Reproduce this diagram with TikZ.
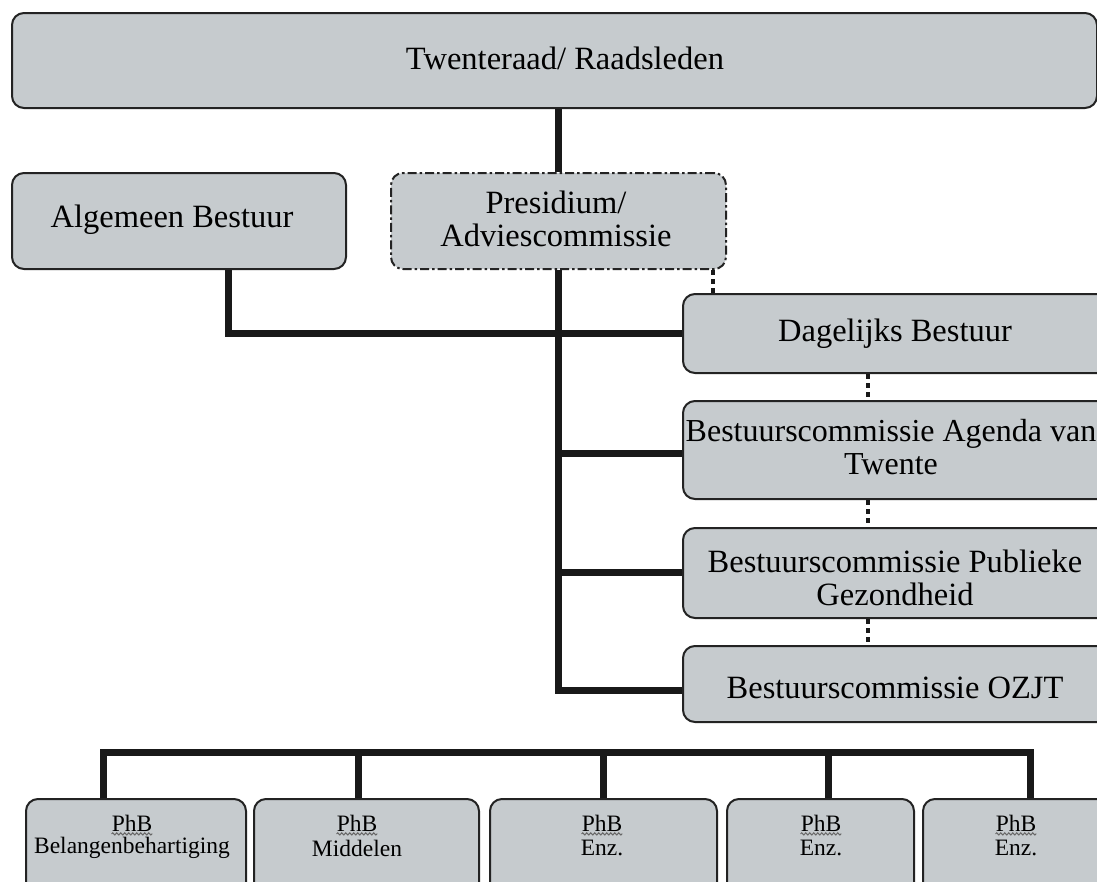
\documentclass[tikz,border=0pt]{standalone}
\usepackage{fontspec}
\setmainfont{Liberation Serif}
\usetikzlibrary{decorations.pathmorphing}
\definecolor{boxfill}{RGB}{198,203,206}
\definecolor{boxline}{RGB}{35,35,35}
\definecolor{connline}{RGB}{25,25,25}
\begin{document}
\begin{tikzpicture}[x=1pt,y=-1pt,
  box/.style={draw=boxline, line width=2pt, fill=boxfill, rounded corners=12pt, anchor=north west, inner sep=0pt},
  dashbox/.style={box, dash pattern=on 9pt off 3pt on 2.5pt off 3pt},
  conn/.style={draw=connline, line width=7pt},
  dotconn/.style={draw=connline, line width=4pt, dash pattern=on 5pt off 4pt},
  big/.style={font=\fontsize{32.5}{33}\selectfont, align=center, inner sep=0pt},
  small/.style={font=\fontsize{23.5}{26}\selectfont, inner sep=0pt},
  squig/.style={draw=black!60, line width=1pt, decorate, decoration={snake, amplitude=1.1pt, segment length=4pt}}
]
\useasboundingbox (0,0) rectangle (1097,881);
\clip (0,0) rectangle (1097,881);

\coordinate (trunkbot) at (557,690);
\coordinate (algdown) at (228,268);
\coordinate (algcorner) at (228,333);

% boxes
\node[box, minimum width=1085, minimum height=95] (top) at (11,12) {};
\node[box, minimum width=334, minimum height=96] (alg) at (11,172) {};
\node[dashbox, minimum width=335, minimum height=96] (pres) at (390,172) {};
\node[box, minimum width=426, minimum height=79] (dag) at (682,293) {};
\node[box, minimum width=426, minimum height=98] (agenda) at (682,400) {};
\node[box, minimum width=426, minimum height=90] (pub) at (682,527) {};
\node[box, minimum width=426, minimum height=76] (ozjt) at (682,645) {};

\node[box, minimum width=220, minimum height=130] (p1) at (25,798) {};
\node[box, minimum width=225, minimum height=130] (p2) at (253,798) {};
\node[box, minimum width=227, minimum height=130] (p3) at (489,798) {};
\node[box, minimum width=187, minimum height=130] (p4) at (726,798) {};
\node[box, minimum width=230, minimum height=130] (p5) at (922,798) {};

% connectors
\path[conn] (top.south -| pres.north) -- (pres.north);
\path[conn] (pres.south) -- (pres.south |- trunkbot) -- (ozjt.west |- trunkbot);
\path[conn] (pres.south |- 0,453) -- (agenda.west |- 0,453);
\path[conn] (pres.south |- 0,572) -- (pub.west |- 0,572);
\path[conn] (alg.south -| algdown) -- (algcorner) -- (dag.west |- algcorner);

% dotted links
\path[dotconn] (pres.south -| 713,0) -- (dag.north -| 713,0);
\path[dotconn] (dag.south -| 868,0) -- (agenda.north -| 868,0);
\path[dotconn] (agenda.south -| 868,0) -- (pub.north -| 868,0);
\path[dotconn] (pub.south -| 868,0) -- (ozjt.north -| 868,0);

% bottom bus
\path[conn] (p1.north -| 103,0) -- (103,752) -- (1030,752) -- (p5.north -| 1030,0);
\path[conn] (p2.north -| 358,0) -- (358,752);
\path[conn] (p3.north -| 603,0) -- (603,752);
\path[conn] (p4.north -| 828,0) -- (828,752);

% texts
\node[big] (ttop) at (565,58) {Twenteraad/ Raadsleden};
\node[big] (talg) at (172,220) {Algemeen Bestuur};
\node[big] (tpres) at (556,219) {Presidium/\\Adviescommissie};
\node[big] (tdag) at (895,334) {Dagelijks Bestuur};
\node[big, font=\fontsize{32}{33}\selectfont] (tagenda) at (891,447) {Bestuurscommissie Agenda van\\Twente};
\node[big] (tpub) at (895,578) {Bestuurscommissie Publieke\\Gezondheid};
\node[big] (tozjt) at (895,688) {Bestuurscommissie OZJT};

\node[small] (a1) at (132,823) {PhB};
\node[small] (b1) at (132,848) {Belangenbehartiging};
\node[small] (a2) at (357,823) {PhB};
\node[small] (b2) at (357,848) {Middelen};
\node[small] (a3) at (602,823) {PhB};
\node[small] (b3) at (602,848) {Enz.};
\node[small] (a4) at (821,823) {PhB};
\node[small] (b4) at (821,848) {Enz.};
\node[small] (a5) at (1016,823) {PhB};
\node[small] (b5) at (1016,848) {Enz.};
\foreach \n in {a1,a2,a3,a4,a5}
  \path[squig] ([yshift=-2.5pt]\n.south west) -- ([yshift=-2.5pt]\n.south east);
\end{tikzpicture}
\end{document}
